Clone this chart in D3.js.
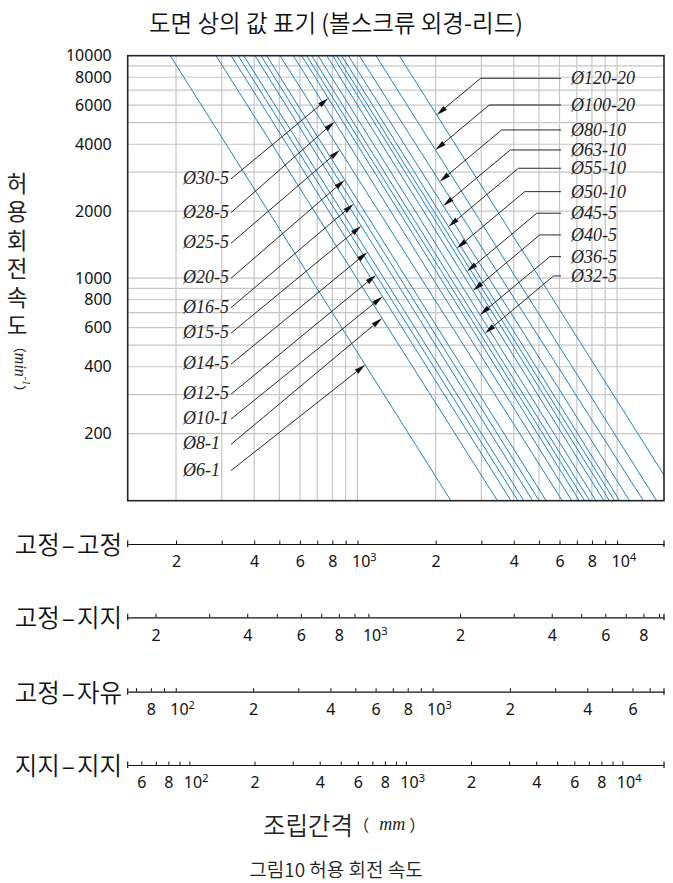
<!DOCTYPE html>
<html><head><meta charset="utf-8">
<script src="https://cdn.jsdelivr.net/npm/d3@7"></script>
<style>body{margin:0;background:#fff}svg{display:block}</style>
</head><body><svg id="c" width="673" height="883"></svg>
<script>
// ---------- data ----------
const titleText = "도면 상의 값 표기 (볼스크류 외경-리드)";
const rpmDomain = [100, 10000];          // 허용회전속도 (min-1)
const rpmTickLabels = [200, 400, 600, 800, 1000, 2000, 4000, 6000, 8000, 10000];
const mainLenDomain = [130.3, 15160];    // 고정-고정 mounting length (mm)

// each blue line: length (mm) where it meets 10000 min-1 and where it meets 100 min-1
const lineNames   = ["Ø6-1","Ø8-1","Ø10-1","Ø12-5","Ø14-5","Ø15-5","Ø16-5","Ø20-5","Ø25-5","Ø28-5","Ø30-5","",
                     "Ø32-5","Ø36-5","Ø40-5","Ø45-5","Ø50-10","Ø55-10","Ø63-10","Ø80-10","Ø100-20","Ø120-20"];
const lenAtTop    = [190,285,326,347,365,403,425,447,503,566,610,637,666,706,761,803,832,869,922,1016,1178,1449];
const lenAtBottom = [2290,3460,3900,4150,4370,4730,5010,5330,6150,6690,7150,7500,7840,8290,8890,9340,9780,10230,11170,12630,14200,17500];

// left-hand callouts
const leftLabels   = ["Ø30-5","Ø28-5","Ø25-5","Ø20-5","Ø16-5","Ø15-5","Ø14-5","Ø12-5","Ø10-1","Ø8-1","Ø6-1"];
const leftLabelRpm = [2822,1992,1451,1010,745,572,415,304,235,181,138];
const leftTipRpm   = [6435,5052,3770,2764,2157,1718,1309,1034,827,661,408];
// right-hand callouts
const rightLabels   = ["Ø120-20","Ø100-20","Ø80-10","Ø63-10","Ø55-10","Ø50-10","Ø45-5","Ø40-5","Ø36-5","Ø32-5"];
const rightLabelRpm = [7915,6004,4637,3770,3120,2449,1959,1565,1250,1024];
const rightTipRpm   = [5417,3770,2716,2113,1705,1364,1071,879,684,566];

// mounting-condition length scales
const mountNames   = [["고정","고정"],["고정","지지"],["고정","자유"],["지지","지지"]];
const mountDomains = [[130.3,15160],[162,9350],[65,7960],[51.9,15570]];

const yAxisTitle = "허용회전속도";
const xAxisTitle = "조립간격";
const caption = "그림10 허용 회전 속도";

// ---------- layout ----------
const svg = d3.select("#c");
const P = {l:127.7, r:664, t:55.7, b:500.7};
const KR = "'Noto Sans CJK KR', 'Noto Sans', sans-serif";
const SANS = "'Noto Sans', 'Open Sans', sans-serif";
const SERIF = "'Liberation Serif', 'Times New Roman', serif";
const BLUE = "#1e80c8";
const KW = 350;

const x = d3.scaleLog().domain(mainLenDomain).range([P.l, P.r]);
const y = d3.scaleLog().domain(rpmDomain).range([P.b, P.t]);

function logTicks(lo, hi) {
  const out = [];
  for (let k = Math.floor(Math.log10(lo)); k <= Math.ceil(Math.log10(hi)); k++)
    for (let d = 1; d <= 9; d++) { const v = d * Math.pow(10, k); if (v > lo * 1.0001 && v < hi * 0.9999) out.push(v); }
  return out;
}

// title
svg.append("text").attr("x", 336).attr("y", 22).attr("text-anchor","middle")
  .attr("dominant-baseline","central").attr("font-family", KR).attr("font-weight",KW).attr("font-size", 23.5)
  .attr("fill","#111").text(titleText);

// gridlines
const grid = svg.append("g").attr("stroke","#c6c6c6").attr("stroke-width",1.2);
grid.selectAll("line.v").data(logTicks(mainLenDomain[0], mainLenDomain[1])).join("line")
  .attr("x1", d => x(d)).attr("x2", d => x(d)).attr("y1", P.t).attr("y2", P.b);
grid.selectAll("line.h").data(logTicks(rpmDomain[0], rpmDomain[1])).join("line")
  .attr("y1", d => y(d)).attr("y2", d => y(d)).attr("x1", P.l).attr("x2", P.r);

// clip
svg.append("clipPath").attr("id","clip").append("rect")
  .attr("x",P.l).attr("y",P.t).attr("width",P.r-P.l).attr("height",P.b-P.t);

// blue lines
const lineGen = d3.line().x(d => x(d[0])).y(d => y(d[1]));
svg.append("g").attr("clip-path","url(#clip)").selectAll("path")
  .data(lenAtTop.map((t,i) => [[t, rpmDomain[1]], [lenAtBottom[i], rpmDomain[0]]]))
  .join("path").attr("d", lineGen).attr("fill","none").attr("stroke",BLUE).attr("stroke-width",1);

// frame
svg.append("rect").attr("x",P.l).attr("y",P.t).attr("width",P.r-P.l).attr("height",P.b-P.t)
  .attr("fill","none").attr("stroke","#222").attr("stroke-width",1.6);

// y axis labels
const yAx = svg.append("g").attr("transform",`translate(${P.l},0)`)
  .call(d3.axisLeft(y).tickValues(rpmTickLabels).tickSize(0).tickPadding(16).tickFormat(d3.format("d")));
yAx.select(".domain").remove();
yAx.selectAll("text").attr("font-family",SANS).attr("font-size",16).attr("fill","#111");

// length at which line i has speed r
function lenAt(i, r) {
  const f = (Math.log(rpmDomain[1]) - Math.log(r)) / (Math.log(rpmDomain[1]) - Math.log(rpmDomain[0]));
  return Math.exp(Math.log(lenAtTop[i]) + f * (Math.log(lenAtBottom[i]) - Math.log(lenAtTop[i])));
}
const ann = svg.append("g");
function arrow(fx, fy, tx, ty) {
  const dx = tx - fx, dy = ty - fy, L = Math.hypot(dx, dy), ux = dx / L, uy = dy / L;
  const bx = tx - ux * 11, by = ty - uy * 11, px = -uy * 2.6, py = ux * 2.6;
  ann.append("path").attr("d", `M${fx},${fy}L${bx},${by}`).attr("stroke","#111").attr("stroke-width",0.9).attr("fill","none");
  ann.append("path").attr("d", `M${tx},${ty}L${bx+px},${by+py}L${bx-px},${by-py}Z`).attr("fill","#111");
}
function label(txt, lx, ly) {
  ann.append("text").attr("x", lx).attr("y", ly).attr("dominant-baseline","central")
    .attr("font-family", SERIF).attr("font-style","italic").attr("font-size",18).attr("fill","#222").text(txt);
}
leftLabels.forEach((name, j) => {
  const i = lineNames.indexOf(name);
  const ly = y(leftLabelRpm[j]);
  const tx = x(lenAt(i, leftTipRpm[j])), ty = y(leftTipRpm[j]);
  label(name, 183, ly);
  arrow(231, ly + 1, tx, ty);
});
rightLabels.forEach((name, j) => {
  const i = lineNames.indexOf(name);
  const ly = y(rightLabelRpm[j]);
  const tx = x(lenAt(i, rightTipRpm[j])), ty = y(rightTipRpm[j]);
  const ex = tx + (ty - ly) / 0.835;
  label(name, 571, ly);
  ann.append("line").attr("x1", 561).attr("x2", ex).attr("y1", ly).attr("y2", ly).attr("stroke","#111").attr("stroke-width",0.9);
  arrow(ex, ly, tx, ty);
});

// y axis title (vertical Korean)
svg.append("text").attr("x", 17).attr("y", 172)
  .style("writing-mode","vertical-rl").style("letter-spacing","6px")
  .attr("font-family", KR).attr("font-weight",400).attr("font-size", 22.5).attr("fill","#222").text(yAxisTitle);
const unitY = svg.append("text").attr("transform","translate(21,369) rotate(90)").attr("text-anchor","middle")
  .attr("dominant-baseline","central").attr("fill","#222");
unitY.append("tspan").attr("font-family",KR).attr("font-size",13).text("（");
unitY.append("tspan").attr("font-family",SERIF).attr("font-style","italic").attr("font-size",16).text("min");
unitY.append("tspan").attr("font-family",SERIF).attr("font-style","italic").attr("font-size",10).attr("dy",-6).text("-1");
unitY.append("tspan").attr("font-family",KR).attr("font-size",13).attr("dy",6).text("）");

// bottom mounting scales
const rowY = [544, 617.3, 691.7, 765];
mountNames.forEach((name, k) => {
  const s = d3.scaleLog().domain(mountDomains[k]).range([P.l, P.r]);
  const tv = logTicks(mountDomains[k][0], mountDomains[k][1]);
  const g = svg.append("g").attr("transform", `translate(0,${rowY[k]})`);
  g.call(d3.axisBottom(s).tickValues(tv).tickSizeInner(-3.5).tickSizeOuter(0).tickPadding(12).tickFormat(() => ""));
  g.select(".domain").attr("stroke","#111").attr("stroke-width",1.2);
  g.selectAll(".tick line").attr("stroke","#111").attr("stroke-width",1);
  g.selectAll(".tick text").each(function(d) {
    const e = Math.round(Math.log10(d)), m = Math.round(d / Math.pow(10, Math.floor(Math.log10(d) + 1e-9)));
    const t = d3.select(this).attr("font-family",SANS).attr("font-size",16).attr("fill","#111");
    if (Math.abs(d - Math.pow(10, e)) < 1e-6) {
      t.attr("text-anchor","start").attr("dx",-6);
      t.append("tspan").text("10");
      t.append("tspan").attr("font-size",11).attr("dy",-6).text(e);
    } else if (m % 2 === 0) {
      t.text(m);
    }
  });
  [P.l, P.r].forEach(ex => g.append("line").attr("x1",ex).attr("x2",ex).attr("y1",-3.5).attr("y2",3)
    .attr("stroke","#111").attr("stroke-width",1.2));
  const lt = svg.append("text").attr("x", 122).attr("y", rowY[k] - 1).attr("text-anchor","end").attr("dominant-baseline","central")
    .attr("font-family",KR).attr("font-weight",KW).attr("font-size",24.5).attr("fill","#111");
  lt.append("tspan").text(name[0]);
  lt.append("tspan").attr("dx",2).text("–");
  lt.append("tspan").attr("dx",2).text(name[1]);
});

// x axis title & caption
const xt = svg.append("text").attr("x", 263).attr("y", 824).attr("dominant-baseline","central").attr("fill","#222");
xt.append("tspan").attr("font-family",KR).attr("font-weight",KW).attr("font-size",24.5).text(xAxisTitle);
xt.append("tspan").attr("font-family",KR).attr("font-size",16).text("（");
xt.append("tspan").attr("font-family",SERIF).attr("font-style","italic").attr("font-size",18).attr("dx",10).text("mm");
xt.append("tspan").attr("font-family",KR).attr("font-size",16).attr("dx",4).text("）");
svg.append("text").attr("x", 336).attr("y", 868).attr("text-anchor","middle").attr("dominant-baseline","central")
  .attr("font-family",KR).attr("font-weight",KW).attr("font-size",19).attr("fill","#222").text(caption);
</script>
</body></html>
